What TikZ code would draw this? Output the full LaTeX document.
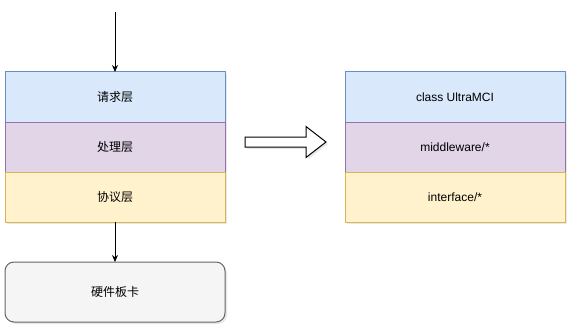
\documentclass[tikz,border=0pt]{standalone}
\usepackage{fontspec}
\setmainfont{Liberation Sans}
\newfontfamily\cjk{Noto Sans CJK SC}
\usetikzlibrary{positioning, arrows.meta, shadows}
\definecolor{bluefill}{HTML}{DAE8FC}
\definecolor{bluedraw}{HTML}{6C8EBF}
\definecolor{purplefill}{HTML}{E1D5E7}
\definecolor{purpledraw}{HTML}{9673A6}
\definecolor{yellowfill}{HTML}{FFF2CC}
\definecolor{yellowdraw}{HTML}{D6B656}
\definecolor{grayfill}{HTML}{F5F5F5}
\definecolor{graydraw}{HTML}{666666}
\tikzset{
  layer/.style={draw, line width=1pt, minimum width=220pt, minimum height=50pt, inner sep=0pt,
    outer sep=0pt, font=\fontsize{12}{14}\selectfont,
    drop shadow={opacity=0.18, shadow xshift=2pt, shadow yshift=-2pt}},
  bluelayer/.style={layer, fill=bluefill, draw=bluedraw},
  purplelayer/.style={layer, fill=purplefill, draw=purpledraw},
  yellowlayer/.style={layer, fill=yellowfill, draw=yellowdraw},
  card/.style={layer, fill=grayfill, draw=graydraw, rounded corners=9pt, minimum height=60pt},
  cn/.style={font=\cjk\fontsize{12}{14}\selectfont},
  bigarrow/.style={draw, line width=1pt, fill=white,
    drop shadow={opacity=0.18, shadow xshift=2pt, shadow yshift=-2pt}},
  >={Stealth[length=7pt, width=6pt]},
}
\begin{document}
\begin{tikzpicture}[x=1pt, y=-1pt, node distance=0pt]
    \useasboundingbox (0,0) rectangle (577,334);
    % left stack
    \coordinate (top) at (115,12);
    \node[bluelayer, cn] (req) at (115,97) {请求层};
    \node[purplelayer, cn, below=of req] (proc) {处理层};
    \node[yellowlayer, cn, below=of proc] (proto) {协议层};
    \node[card, cn, below=40pt of proto] (hw) {硬件板卡};
    \draw[->, line width=1pt] (top) -- (req);
    \draw[->, line width=1pt] (proto) -- (hw);
    % right stack
    \node[bluelayer] (cls) at (455,97) {class UltraMCI};
    \node[purplelayer, below=of cls] (mid) {middleware/*};
    \node[yellowlayer, below=of mid] (intf) {interface/*};
    % block arrow
    \coordinate (arr) at (245,142);
    \draw[bigarrow] (arr) ++(0,-5) -- ++(61,0) -- ++(0,-10.5) -- ++(20,15.5)
      -- ++(-20,15.5) -- ++(0,-10.5) -- ++(-61,0) -- cycle;
  \end{tikzpicture}
\end{document}
